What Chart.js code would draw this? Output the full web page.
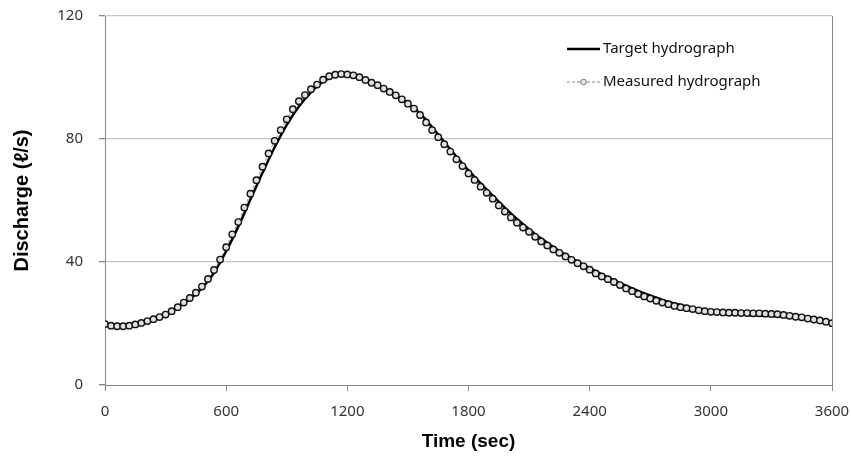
<!DOCTYPE html>
<html>
<head>
<meta charset="utf-8">
<script src="https://cdn.jsdelivr.net/npm/chart.js@4.4.1/dist/chart.umd.min.js"></script>
<style>
  html, body { margin: 0; padding: 0; background: #fff; }
  #wrap { width: 851px; height: 462px; position: relative; }
</style>
</head>
<body>
<div id="wrap"><canvas id="hydroChart"></canvas></div>
<script>
// ---- data ----
const measuredStep = 30; // sec between measured samples
const measuredValues = [
  19.8, 19.3, 19.1, 19.1, 19.3, 19.7, 20.2, 20.8, 21.4, 22.1,
  22.9, 24.0, 25.3, 26.8, 28.3, 30.0, 32.0, 34.5, 37.4, 40.8,
  44.8, 49.0, 53.0, 57.7, 62.2, 66.6, 71.0, 75.3, 79.4, 82.9,
  86.4, 89.7, 92.3, 94.3, 96.2, 97.7, 99.3, 100.4, 100.9, 101.1,
  101.0, 100.7, 100.1, 99.2, 98.3, 97.5, 96.4, 95.3, 94.2, 92.9,
  91.5, 89.9, 87.8, 85.4, 82.9, 80.6, 78.3, 75.9, 73.4, 71.2,
  68.8, 66.7, 64.5, 62.5, 60.6, 58.4, 56.4, 54.5, 52.8, 51.2,
  49.8, 48.2, 46.7, 45.4, 44.1, 43.0, 41.8, 40.7, 39.6, 38.6,
  37.5, 36.3, 35.3, 34.4, 33.5, 32.5, 31.4, 30.5, 29.6, 28.8,
  28.1, 27.4, 26.8, 26.3, 25.7, 25.3, 25.0, 24.7, 24.3, 24.0,
  23.8, 23.7, 23.6, 23.5, 23.5, 23.4, 23.4, 23.3, 23.3, 23.2,
  23.1, 23.0, 22.8, 22.5, 22.2, 22.0, 21.6, 21.3, 21.0, 20.6,
  20.1
];
const targetTimes = [
  0, 60, 120, 180, 240, 300, 360, 420, 480, 540,
  600, 660, 720, 780, 840, 900, 960, 1020, 1080, 1140,
  1200, 1260, 1320, 1380, 1440, 1500, 1560, 1620, 1680, 1740,
  1800, 1860, 1920, 1980, 2040, 2100, 2160, 2220, 2280, 2340,
  2400, 2460, 2520, 2580, 2640, 2700, 2760, 2820, 2880, 2940,
  3000, 3060, 3120, 3180, 3240, 3300, 3360, 3420, 3480, 3540,
  3600
];
const targetValues = [
  20.0, 19.3, 19.4, 20.2, 21.4, 23.0, 25.2, 28.0, 31.5, 36.5,
  43.5, 51.5, 60.3, 69.0, 77.3, 84.6, 90.6, 95.2, 98.6, 100.5,
  101.0, 100.3, 98.6, 96.6, 94.4, 91.6, 88.3, 83.8, 79.0, 74.3,
  69.8, 65.6, 61.6, 57.7, 54.0, 50.7, 47.6, 44.9, 42.4, 40.1,
  38.0, 36.0, 34.1, 32.3, 30.6, 29.1, 27.7, 26.5, 25.5, 24.7,
  24.0, 23.5, 23.1, 22.8, 22.6, 22.4, 22.2, 21.9, 21.4, 20.8,
  20.0
];
const xTicks = [0, 600, 1200, 1800, 2400, 3000, 3600];
const yTicks = [0, 40, 80, 120];
const seriesNames = ['Target hydrograph', 'Measured hydrograph'];

const AXIS = '#868686';
const GRID = '#c4c4c4';
const TICK_FONT = { family: '"Noto Sans", sans-serif', size: 15 };

// right border of the plot + hand drawn legend (line samples like the original)
const frameAndLegend = {
  id: 'frameAndLegend',
  afterDraw(chart) {
    const { ctx, chartArea: a } = chart;
    ctx.save();
    ctx.strokeStyle = AXIS;
    ctx.lineWidth = 1;
    ctx.beginPath();
    ctx.moveTo(a.right + 0.5, a.top);
    ctx.lineTo(a.right + 0.5, a.bottom);
    ctx.stroke();

    const x0 = 567, x1 = 600, rows = [49, 82];
    ctx.font = '15px "Noto Sans", sans-serif';
    ctx.textBaseline = 'middle';
    ctx.fillStyle = '#111';

    ctx.strokeStyle = '#000';
    ctx.lineWidth = 2.5;
    ctx.beginPath();
    ctx.moveTo(x0, rows[0]); ctx.lineTo(x1, rows[0]);
    ctx.stroke();
    ctx.fillText(seriesNames[0], 603, rows[0]);

    ctx.strokeStyle = '#8a8a8a';
    ctx.lineWidth = 1;
    ctx.setLineDash([3, 2]);
    ctx.beginPath();
    ctx.moveTo(x0, rows[1]); ctx.lineTo(x1, rows[1]);
    ctx.stroke();
    ctx.setLineDash([]);
    ctx.beginPath();
    ctx.arc((x0 + x1) / 2, rows[1], 2.8, 0, Math.PI * 2);
    ctx.fillStyle = '#e6e6e6';
    ctx.fill();
    ctx.strokeStyle = '#777';
    ctx.stroke();
    ctx.fillStyle = '#111';
    ctx.fillText(seriesNames[1], 603, rows[1]);
    ctx.restore();
  }
};

new Chart(document.getElementById('hydroChart'), {
  type: 'line',
  data: {
    datasets: [
      {
        label: seriesNames[1],
        data: measuredValues.map((v, i) => ({ x: i * measuredStep, y: v })),
        borderColor: '#8a8a8a',
        borderWidth: 1,
        borderDash: [3, 2],
        tension: 0,
        pointRadius: 3.2,
        pointBorderWidth: 1.4,
        pointBackgroundColor: '#e0e0e0',
        pointBorderColor: '#111',
        order: 0
      },
      {
        label: seriesNames[0],
        data: targetTimes.map((t, i) => ({ x: t, y: targetValues[i] })),
        borderColor: '#000',
        borderWidth: 2.5,
        cubicInterpolationMode: 'monotone',
        pointRadius: 0,
        order: 1
      }
    ]
  },
  options: {
    responsive: true,
    maintainAspectRatio: false,
    animation: false,
    layout: { padding: { top: 16, right: 19, left: 0, bottom: 0 } },
    plugins: { legend: { display: false }, tooltip: { enabled: false } },
    scales: {
      x: {
        type: 'linear',
        min: 0,
        max: 3600,
        afterBuildTicks: s => { s.ticks = xTicks.map(v => ({ value: v })); },
        afterFit: s => { s.height = 77; s.paddingLeft = 0; s.paddingRight = 0; },
        grid: { drawOnChartArea: false, tickLength: 6, tickColor: AXIS },
        border: { color: AXIS, width: 1 },
        ticks: {
          font: TICK_FONT, color: '#333', padding: 12, maxRotation: 0, autoSkip: false,
          callback: v => String(v)
        },
        title: {
          display: true,
          text: 'Time (sec)',
          color: '#000',
          font: { family: '"Liberation Sans", Arial, sans-serif', size: 19, weight: 'bold' },
          padding: { top: 0, bottom: 9 }
        }
      },
      y: {
        min: 0,
        max: 120,
        afterBuildTicks: s => { s.ticks = yTicks.map(v => ({ value: v })); },
        afterFit: s => { s.width = 105; s.paddingTop = 0; s.paddingBottom = 0; },
        grid: {
          color: c => (c.tick && c.tick.value === 0 ? 'rgba(0,0,0,0)' : GRID),
          lineWidth: 1.3,
          tickLength: 6,
          tickColor: AXIS
        },
        border: { color: AXIS, width: 1 },
        ticks: { font: TICK_FONT, color: '#333', padding: 16, callback: v => String(v) },
        title: {
          display: true,
          text: 'Discharge (ℓ/s)',
          color: '#000',
          font: { family: '"Liberation Sans", Arial, sans-serif', size: 20, weight: 'bold' },
          padding: { top: 10, bottom: 0 }
        }
      }
    }
  },
  plugins: [frameAndLegend]
});
</script>
</body>
</html>
